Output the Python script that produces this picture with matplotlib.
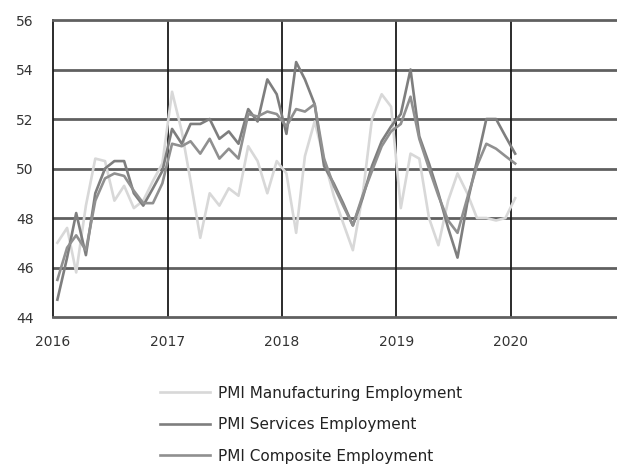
import numpy as np
import pandas as pd
import matplotlib
matplotlib.use("Agg")
import matplotlib.pyplot as plt
import matplotlib.dates as mdates

# monthly PMI employment readings, Jan 2016 - Jan 2020
months = pd.date_range("2016-01-01", "2020-01-01", freq="MS") + pd.Timedelta(days=14)

manufacturing = [47.0, 47.6, 45.8, 48.5, 50.4, 50.3, 48.7, 49.3, 48.4, 48.7, 49.5, 50.2,
                 53.1, 51.5, 49.5, 47.2, 49.0, 48.5, 49.2, 48.9, 50.9, 50.3, 49.0, 50.3,
                 49.8, 47.4, 50.5, 51.9, 50.4, 48.9, 47.8, 46.7, 48.9, 52.0, 53.0, 52.5,
                 48.4, 50.6, 50.4, 48.0, 46.9, 48.7, 49.8, 49.0, 48.0, 48.0, 47.9, 48.0,
                 48.8]
services = [44.7, 46.4, 48.2, 46.5, 49.0, 50.0, 50.3, 50.3, 49.0, 48.5, 49.2, 49.9,
            51.6, 51.0, 51.8, 51.8, 52.0, 51.2, 51.5, 51.0, 52.4, 51.9, 53.6, 53.0,
            51.4, 54.3, 53.6, 52.6, 50.1, 49.4, 48.6, 47.7, 48.8, 50.1, 51.1, 51.7,
            52.2, 54.0, 51.3, 50.2, 49.0, 47.6, 46.4, 48.6, 50.3, 52.0, 52.0, 51.3,
            50.6]
composite = [45.5, 46.8, 47.3, 46.7, 48.7, 49.6, 49.8, 49.7, 49.1, 48.6, 48.6, 49.4,
             51.0, 50.9, 51.1, 50.6, 51.2, 50.4, 50.8, 50.4, 52.2, 52.1, 52.3, 52.2,
             51.7, 52.4, 52.3, 52.6, 50.4, 49.3, 48.5, 47.7, 48.9, 49.9, 50.9, 51.5,
             51.8, 52.9, 51.2, 50.0, 48.9, 47.9, 47.4, 48.8, 50.1, 51.0, 50.8, 50.5,
             50.2]

labels = ["PMI Manufacturing Employment", "PMI Services Employment", "PMI Composite Employment"]
colors = ["#d8d8d8", "#7e7e7e", "#909090"]

fig = plt.figure(figsize=(6.17, 4.65), dpi=100)
ax = fig.add_axes([53 / 617, 148 / 465, 1 - 53 / 617, 297 / 465])

for series, lab, col in zip([manufacturing, services, composite], labels, colors):
    ax.plot(months, series, color=col, lw=1.9, label=lab, zorder=3)

ax.set_ylim(44, 56)
ax.set_yticks(np.arange(44, 57, 2))
ax.set_xlim(pd.Timestamp("2016-01-01"), pd.Timestamp("2020-12-05"))
ax.xaxis.set_major_formatter(mdates.DateFormatter("%Y"))
ax.set_xticks([pd.Timestamp(f"{y}-01-01") for y in range(2016, 2021)])

# horizontal grid in dark grey, year separators in black
for v in range(46, 56, 2):
    ax.axhline(v, color="#606060", lw=2.0, zorder=1)
for y in range(2017, 2021):
    ax.axvline(pd.Timestamp(f"{y}-01-01"), color="#1a1a1a", lw=1.3, zorder=2)

ax.spines["right"].set_visible(False)
ax.spines["left"].set_color("#1a1a1a")
ax.spines["left"].set_linewidth(1.3)
for s in ["top", "bottom"]:
    ax.spines[s].set_color("#606060")
    ax.spines[s].set_linewidth(2.0)

ax.tick_params(axis="both", length=0, labelsize=10, labelcolor="#333333")
ax.tick_params(axis="y", pad=14)
ax.tick_params(axis="x", pad=13)

fig.legend(loc="upper left", bbox_to_anchor=(146 / 617, 1 - 372 / 465), frameon=False,
           fontsize=11, handlelength=3.3, handletextpad=0.5, labelspacing=1.08,
           labelcolor="#222222")

plt.savefig("out.png", dpi=100)
